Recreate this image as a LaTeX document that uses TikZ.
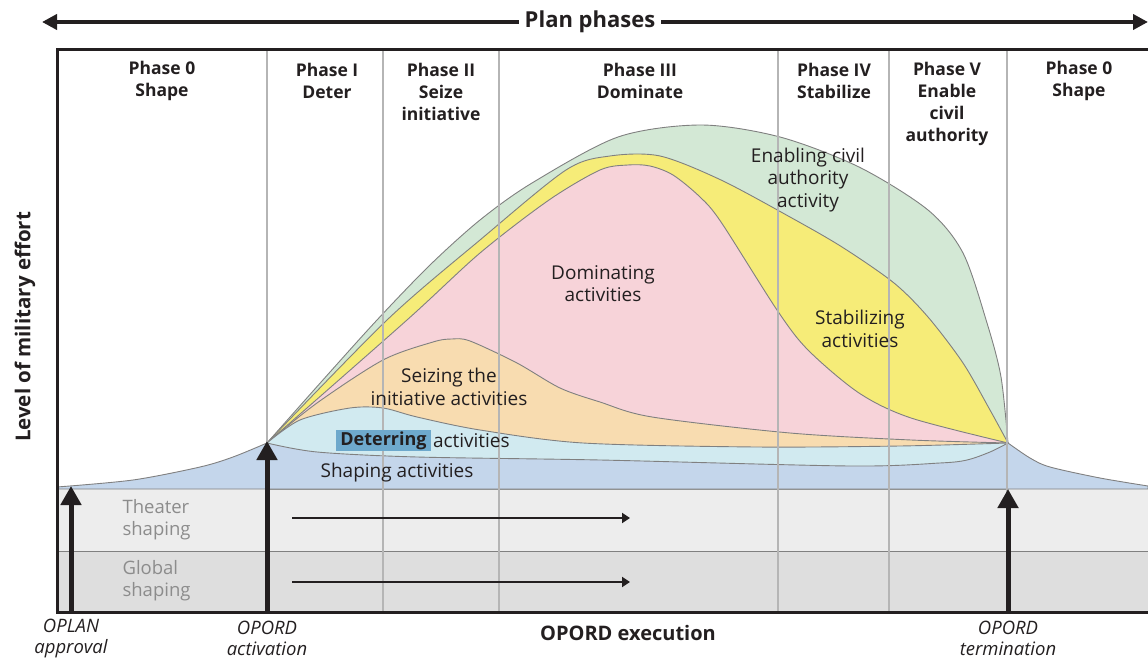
\documentclass[tikz,border=0pt]{standalone}
\usepackage{fontspec}
\setmainfont{Open Sans}
\usepackage{tikz}
\usetikzlibrary{arrows.meta, positioning}
\definecolor{inkdark}{HTML}{231F20}
\definecolor{gridgray}{HTML}{B5B5B5}
\definecolor{edgegray}{HTML}{808080}
\definecolor{fillgreen}{HTML}{D3E8D5}
\definecolor{fillyellow}{HTML}{F6EC78}
\definecolor{fillpink}{HTML}{F7D3D9}
\definecolor{fillorange}{HTML}{F8DCB0}
\definecolor{fillcyan}{HTML}{D1EAF0}
\definecolor{fillblue}{HTML}{C4D6EB}
\definecolor{bandlight}{HTML}{EDEDED}
\definecolor{banddark}{HTML}{DEDEDE}
\definecolor{deterblue}{HTML}{6EA9CC}
\definecolor{labelgray}{HTML}{8C8C8C}
\tikzset{
	% headings of the phase columns
	phase/.style={font=\fontsize{17.5}{22}\selectfont\bfseries, align=center, text=inkdark},
	% labels inside the coloured areas
	area/.style={font=\fontsize{19}{22.5}\selectfont, align=center, text=inkdark},
	% labels under the frame
	event/.style={font=\fontsize{18.5}{21.5}\selectfont\itshape, align=center, text=inkdark, inner ysep=1pt},
	% labels of the grey bands
	bandlabel/.style={font=\fontsize{18.5}{22}\selectfont, align=left, anchor=west, text=labelgray},
	% one coloured effort area
	layer/.style={fill=#1, draw=edgegray, line width=0.9pt},
	% arrows
	milestone/.style={-{Triangle[length=19pt,width=20pt]}, line width=5pt, inkdark},
	phasearrow/.style={-{Triangle[length=15pt,width=15pt]}, line width=4pt, inkdark},
	bandarrow/.style={-{Triangle[length=8pt,width=10pt]}, line width=2pt, inkdark}
}

\begin{document}
\begin{tikzpicture}[x=1pt, y=-1pt]
\useasboundingbox (0,0) rectangle (1148,660);

% grey bands
\fill[bandlight] (57,489) rectangle (1148,551);
\fill[banddark] (57,551) rectangle (1148,612);
\draw[edgegray, line width=1pt] (57,551) -- (1148,551);

% effort areas, back to front
\filldraw[layer=fillgreen] plot[smooth] coordinates {(267,443) (322,381) (377,320) (430,265) (480,220) (532,183) (618,137) (701,125) (780,137) (859,167) (928,210) (963,253) (987,323) (1001,377) (1008,443)} -- (1008,489) -- (267,489) -- cycle;
\filldraw[layer=fillyellow] plot[smooth] coordinates {(267,443) (387,320) (480,240) (566,170) (610,156) (660,156) (721,180) (790,217) (842,247) (894,283) (928,317) (963,363) (990,410) (1008,443)} -- (1008,489) -- (267,489) -- cycle;
\filldraw[layer=fillpink] plot[smooth] coordinates {(267,443) (407,320) (480,253) (549,200) (600,170) (628,165) (650,166) (673,175) (700,197) (721,222) (777,310) (808,350) (859,393) (911,418) (1008,443)} -- (1008,489) -- (267,489) -- cycle;
\filldraw[layer=fillorange] plot[smooth] coordinates {(267,443) (317,403) (383,360) (433,342) (452,339) (470,341) (517,363) (560,388) (600,402) (652,417) (790,433) (911,440) (1008,443)} -- (1008,489) -- (267,489) -- cycle;
\filldraw[layer=fillcyan] plot[smooth] coordinates {(267,443) (300,420) (350,408) (383,408) (417,417) (480,430) (583,443) (756,447) (900,446) (1008,443)} -- (1008,489) -- (267,489) -- cycle;
\filldraw[layer=fillblue] plot[smooth] coordinates {(57,487) (133,480) (200,467) (233,457) (267,443)}
  -- plot[smooth] coordinates {(267,443) (317,452) (417,457) (600,460) (850,466) (940,463) (967,460) (990,452) (1008,443)}
  -- plot[smooth] coordinates {(1008,443) (1030,458) (1050,467) (1100,478) (1148,486)}
  -- (1148,489) -- (57,489) -- cycle;

% phase borders
\foreach \x in {267,383,499,778,889,1007}
  \draw[gridgray, line width=1.3pt] (\x,50) -- (\x,612);

% frame
\draw[inkdark, line width=3pt] (1148,50) -- (57,50) -- (57,612) -- (1148,612);

% plan phases
\node[font=\fontsize{22}{26}\selectfont\bfseries, text=inkdark, inner xsep=6pt] at (590,22) (plan) {Plan phases};
\coordinate (planL) at (42,22);
\coordinate (planR) at (1148,22);
\draw[phasearrow] (plan) -- (planL);
\draw[phasearrow] (plan) -- (planR);

\node[phase] at (162,81) (ph0a) {Phase 0\\Shape};
\node[phase] at (327,81) (ph1) {Phase I\\Deter};
\node[phase] at (441,92) (ph2) {Phase II\\Seize\\initiative};
\node[phase] at (640,81) (ph3) {Phase III\\Dominate};
\node[phase] at (834,81) (ph4) {Phase IV\\Stabilize};
\node[phase] at (947,103.5) (ph5) {Phase V\\Enable\\civil\\authority};
\node[phase] at (1079,81) (ph0b) {Phase 0\\Shape};

% area labels
\node[area] at (808,180) (civil) {Enabling civil\\authority\\activity};
\node[area] at (603,283.5) (dominate) {Dominating\\activities};
\node[area] at (860,329) (stabilize) {Stabilizing\\activities};
\node[area] at (449,387) (seize) {Seizing the\\initiative activities};
\node[area, font=\fontsize{18}{22.5}\selectfont\bfseries, fill=deterblue, inner xsep=4.5pt, inner ysep=1pt, minimum height=21pt] at (383.5,440.5) (deter) {Deterring};
\node[area, inner xsep=1.5pt, right=0pt of deter] (deteract) {activities};
\node[area] at (397,473) (shaping) {Shaping activities};

% band labels and arrows
\node[bandlabel] at (119,520) (theater) {Theater\\shaping};
\node[bandlabel] at (119,580.5) (global) {Global\\shaping};
\coordinate (theaterS) at (292,518);
\coordinate (theaterE) at (630,518);
\coordinate (globalS) at (292,582);
\coordinate (globalE) at (630,582);
\draw[bandarrow] (theaterS) -- (theaterE);
\draw[bandarrow] (globalS) -- (globalE);

% milestones
\coordinate (approvalFoot) at (71,612);
\coordinate (approvalTip) at (71,486);
\coordinate (activationFoot) at (267,612);
\coordinate (activationTip) at (267,441);
\coordinate (terminationFoot) at (1008,612);
\coordinate (terminationTip) at (1008,489);
\draw[milestone] (approvalFoot) -- (approvalTip);
\draw[milestone] (activationFoot) -- (activationTip);
\draw[milestone] (terminationFoot) -- (terminationTip);

\node[event] at (71,638.5) (approval) {OPLAN\\approval};
\node[event] at (267,638.5) (activation) {OPORD\\activation};
\node[event] at (1008,638.5) (termination) {OPORD\\termination};
\node[font=\fontsize{20}{24}\selectfont\bfseries, text=inkdark] at (628,633) (execution) {OPORD execution};

\node[font=\fontsize{20.5}{24}\selectfont\bfseries, text=inkdark, rotate=90] at (25,327) (effort) {Level of military effort};
\end{tikzpicture}
\end{document}
